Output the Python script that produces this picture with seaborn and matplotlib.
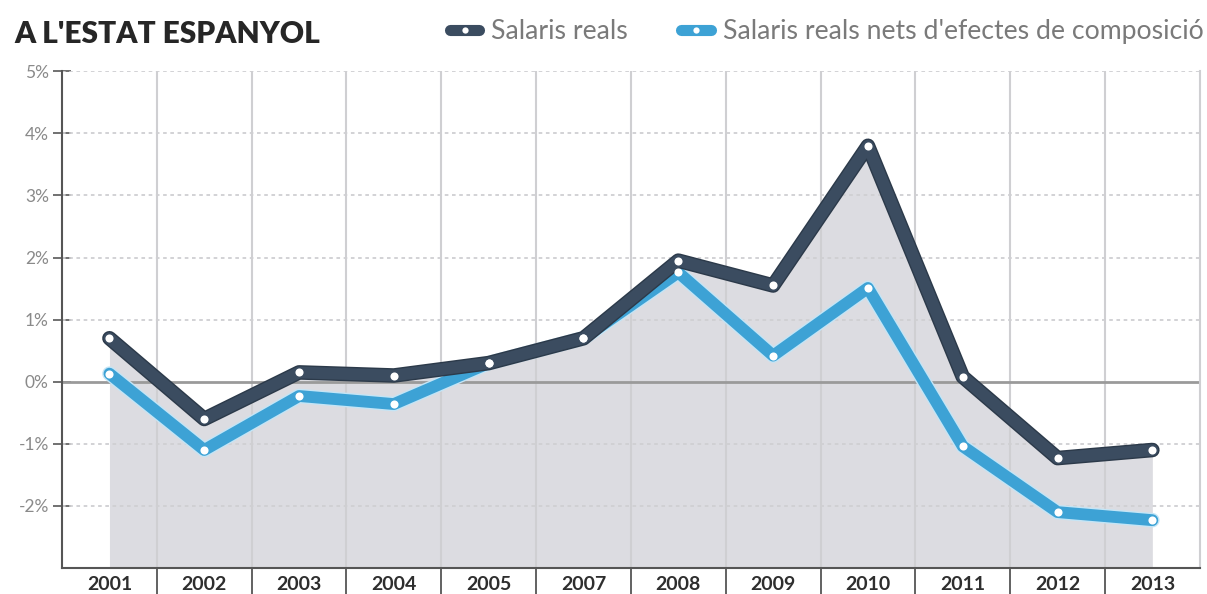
import matplotlib
matplotlib.use("Agg")
import matplotlib.pyplot as plt
import matplotlib.patheffects as pe
from matplotlib.lines import Line2D
import numpy as np
import pandas as pd
import seaborn as sns

# Data: annual real wage growth (%)
years = ["2001", "2002", "2003", "2004", "2005", "2007", "2008", "2009", "2010", "2011", "2012", "2013"]
salaris_reals = [0.7, -0.6, 0.15, 0.1, 0.3, 0.7, 1.95, 1.55, 3.8, 0.08, -1.23, -1.1]
salaris_nets = [0.13, -1.1, -0.23, -0.36, 0.3, 0.7, 1.76, 0.42, 1.51, -1.04, -2.1, -2.23]
y_ticks = [-2, -1, 0, 1, 2, 3, 4, 5]
y_tick_labels = ["-2%", "-1%", "0%", "1%", "2%", "3%", "4%", "5%"]

label_reals = "Salaris reals"
label_nets = "Salaris reals nets d'efectes de composició"
title = "A L'ESTAT ESPANYOL"

DARK = "#3b4c60"
BLUE = "#3da2d5"
FILL = "#dcdce1"
GRID = "#cfcfd2"

sns.set_theme(style="white")
plt.rcParams["font.family"] = ["Lato", "DejaVu Sans"]

idx = np.arange(len(years))
df = pd.DataFrame({
    "pos": np.concatenate([idx, idx]),
    "valor": salaris_reals + salaris_nets,
    "serie": [label_reals] * len(years) + [label_nets] * len(years),
})
palette = {label_reals: DARK, label_nets: BLUE}
order = [label_nets, label_reals]

fig = plt.figure(figsize=(12.07, 5.94), dpi=100)
ax = fig.add_axes([0.0514, 0.0438, 0.9426, 0.8362])
ax.set_xlim(-0.5, len(years) - 0.5)
ax.set_ylim(-3, 5)

# shaded area under the real-wage series
ax.fill_between(idx, salaris_reals, -3, color=FILL, lw=0, zorder=1)

# grid: solid vertical separators, dotted horizontal guides
for xv in np.arange(0.5, len(years) - 0.5, 1.0):
    ax.axvline(xv, color=GRID, lw=1.5, zorder=2)
for yv in [-2, -1, 1, 2, 3, 4, 5]:
    ax.axhline(yv, color=GRID, lw=1.3, ls=(0, (2, 2)), zorder=2)
ax.axhline(0, color="#9a9a9a", lw=2, zorder=2)

# series lines
sns.lineplot(data=df, x="pos", y="valor", hue="serie", palette=palette,
             hue_order=order, lw=8.5, legend=False, ax=ax, zorder=4)
halo = {label_reals: "#2c3a4a", label_nets: "#c4e5f6"}
for line, key in zip(ax.lines[-2:], order):
    line.set_solid_capstyle("round")
    line.set_solid_joinstyle("round")
    line.set_path_effects([pe.Stroke(linewidth=10.5, foreground=halo[key]), pe.Normal()])

# white point markers on top of the lines
sns.scatterplot(data=df, x="pos", y="valor", color="white", s=34,
                linewidth=0, legend=False, ax=ax, zorder=6)

# spines
ax.spines["top"].set_visible(False)
ax.spines["right"].set_color(GRID)
ax.spines["right"].set_linewidth(1.5)
for s in ["left", "bottom"]:
    ax.spines[s].set_color("#555555")
    ax.spines[s].set_linewidth(1.5)

# y axis
ax.set_yticks(y_ticks)
ax.set_yticklabels(y_tick_labels)
ax.tick_params(axis="y", direction="inout", length=13, width=1.3, color="#666666",
               labelsize=12.5, labelcolor="#8a8a8a", pad=3, left=True)

# x axis: labels at categories, separators between them
ax.set_xticks(idx)
ax.set_xticklabels(years, fontweight="bold")
ax.set_xticks(np.arange(0.5, len(years) - 0.5, 1.0), minor=True)
ax.tick_params(axis="x", which="major", length=0, labelsize=14, labelcolor="#2e2e2e", pad=6)
ax.tick_params(axis="x", which="minor", length=20, width=1.3, color="#555555", bottom=True)
ax.set_xlabel("")
ax.set_ylabel("")

# title and legend
fig.text(0.012, 0.943, title, fontsize=21.5, fontweight="heavy", color="#262626",
         va="center", ha="left")
handles = [
    Line2D([0], [0], color=DARK, lw=8, solid_capstyle="round", marker="o",
           markersize=4.5, markerfacecolor="white", markeredgewidth=0),
    Line2D([0], [0], color=BLUE, lw=8, solid_capstyle="round", marker="o",
           markersize=4.5, markerfacecolor="white", markeredgewidth=0),
]
leg = fig.legend(handles, [label_reals, label_nets], loc="center right",
                 bbox_to_anchor=(0.997, 0.947), ncol=2, frameon=False,
                 fontsize=19.2, handlelength=1.1, handletextpad=0.45,
                 columnspacing=2.0, borderpad=0, borderaxespad=0)
for t in leg.get_texts():
    t.set_color("#7a7a7a")

fig.savefig("out.png", dpi=100)
